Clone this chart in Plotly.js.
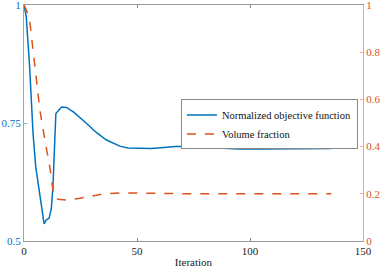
<!DOCTYPE html>
<html><head><meta charset="utf-8">
<script src="https://cdn.plot.ly/plotly-3.0.1.min.js"></script>
<style>html,body{margin:0;padding:0;background:#fff}#chart{width:382px;height:270px}</style>
</head><body><div id="chart"></div>
<script>
const objIter = [0, 1, 2.5, 4.0, 5.2, 6.5, 8.9, 9.9, 11.1, 12.1, 12.8, 14.1, 16.6, 18.8, 22, 27.7, 32, 36.5, 42.4, 46, 51.3, 56, 62, 67, 72, 78, 85, 95, 105, 115, 125, 136];
const objVal  = [1.0, 0.975, 0.868, 0.728, 0.657, 0.615, 0.536, 0.545, 0.548, 0.569, 0.615, 0.770, 0.784, 0.783, 0.773, 0.749, 0.730, 0.714, 0.701, 0.697, 0.696, 0.696, 0.698, 0.700, 0.700, 0.699, 0.697, 0.695, 0.695, 0.695, 0.695, 0.696];
const volIter = [0, 1, 2.5, 4.0, 5.5, 7.0, 9.2, 11.4, 12.4, 13.3, 15.1, 18.8, 24.7, 30, 35, 42.4, 51.3, 60, 70, 80, 90, 100, 110, 120, 136];
const volVal  = [1.0, 0.98, 0.935, 0.808, 0.667, 0.556, 0.429, 0.315, 0.244, 0.188, 0.177, 0.174, 0.181, 0.191, 0.199, 0.204, 0.204, 0.202, 0.200, 0.200, 0.200, 0.200, 0.200, 0.200, 0.200];
const xTicks = [0, 50, 100, 150];
const yTicks = [0.5, 0.75, 1];
const y2Ticks = [0, 0.2, 0.4, 0.6, 0.8, 1];

const serif = 'Liberation Serif, Times New Roman, serif';
const blue = '#0072BD', orange = '#D95319';

const data = [
  {x: objIter, y: objVal, type: 'scatter', mode: 'lines', name: 'Normalized objective function',
   line: {color: blue, width: 1.5}, yaxis: 'y'},
  {x: volIter, y: volVal, type: 'scatter', mode: 'lines', name: 'Volume fraction',
   line: {color: orange, width: 1.5, dash: 'dash'}, yaxis: 'y2'}
];
const layout = {
  width: 382, height: 270,
  margin: {l: 24, r: 19, t: 5, b: 29},
  paper_bgcolor: '#fff', plot_bgcolor: '#fff',
  font: {family: serif, size: 11, color: '#222'},
  showlegend: true,
  legend: {x: 0.985, xanchor: 'right', y: 0.6, yanchor: 'top', bgcolor: '#fff',
           bordercolor: '#888', borderwidth: 1, font: {family: serif, size: 10.5, color: '#111'},
           tracegroupgap: 0, itemwidth: 30},
  xaxis: {range: [0, 150], tickvals: xTicks, ticks: 'inside', ticklen: 3, tickcolor: '#888',
          showgrid: false, zeroline: false, showline: true, linecolor: '#999', linewidth: 1, mirror: 'ticks',
          tickfont: {family: serif, size: 11, color: '#222'}, ticklabeloverflow: 'allow',
          title: {text: 'Iteration', font: {family: serif, size: 11, color: '#222'}, standoff: 2}},
  yaxis: {range: [0.5, 1], tickvals: yTicks, ticktext: ['0.5', '0.75', '1'], ticks: 'inside', ticklen: 3,
          tickcolor: '#6fb3e3', showgrid: false, zeroline: false, showline: true, linecolor: '#6fb3e3', linewidth: 1,
          ticklabeloverflow: 'allow', tickfont: {family: serif, size: 11, color: blue}},
  yaxis2: {range: [0, 1], tickvals: y2Ticks, ticktext: ['0', '0.2', '0.4', '0.6', '0.8', '1'], overlaying: 'y', side: 'right',
           ticks: 'inside', ticklen: 3, tickcolor: '#eea98a', showgrid: false, zeroline: false, showline: true,
           ticklabeloverflow: 'allow', linecolor: '#eea98a', linewidth: 1, tickfont: {family: serif, size: 11, color: orange}}
};
Plotly.newPlot('chart', data, layout, {displayModeBar: false, staticPlot: true});
</script></body></html>
